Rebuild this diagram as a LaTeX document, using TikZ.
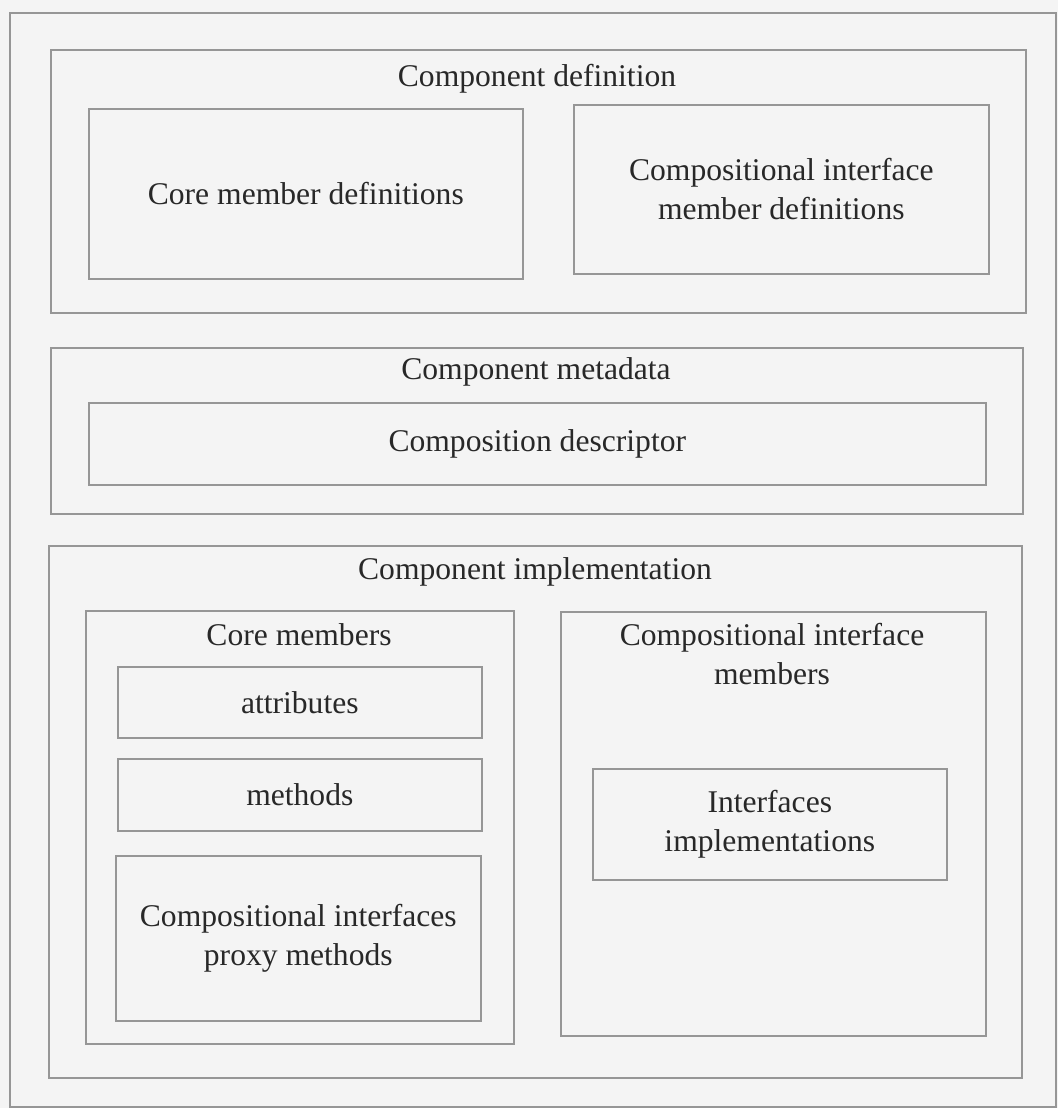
\documentclass[tikz,border=0pt]{standalone}
\usepackage{fontspec}
\setmainfont{Liberation Serif}
\definecolor{paper}{RGB}{244,244,244}
\definecolor{frame}{RGB}{150,150,150}
\definecolor{ink}{RGB}{40,40,40}
\begin{document}
\begin{tikzpicture}[x=1pt,y=-1pt,
  box/.style={draw=frame, line width=1.6pt, inner sep=0pt, anchor=north west},
  lbl/.style={text=ink, font=\fontsize{31.6}{39}\selectfont, align=center, inner sep=0pt}]
  % page
  \fill[paper] (0,0) rectangle (1058,1108);
  \useasboundingbox (0,0) rectangle (1058,1108);
  % outer frame
  \draw[frame, line width=1.6pt] (10,13) rectangle (1056,1107);

  % --- Component definition ---
  \node[box, minimum width=975pt, minimum height=263pt] (def) at (50,49) {};
  \node[lbl] (defT) at (537,79) {Component definition};
  \node[box, minimum width=434pt, minimum height=170pt] (coredef) at (88,108) {};
  \node[lbl] (coredefT) at (coredef.center) {Core member definitions};
  \node[box, minimum width=415pt, minimum height=169pt] (cidef) at (573,104) {};
  \node[lbl] (cidefT) at (cidef.center) {Compositional interface\\member definitions};

  % --- Component metadata ---
  \node[box, minimum width=972pt, minimum height=166pt] (meta) at (50,347) {};
  \node[lbl] (metaT) at (536,372) {Component metadata};
  \node[box, minimum width=897pt, minimum height=82pt] (desc) at (88,402) {};
  \node[lbl] (descT) at (desc.center) {Composition descriptor};

  % --- Component implementation ---
  \node[box, minimum width=973pt, minimum height=532pt] (impl) at (48,545) {};
  \node[lbl] (implT) at (535,572) {Component implementation};

  % core members
  \node[box, minimum width=428pt, minimum height=433pt] (core) at (85,610) {};
  \node[lbl] (coreT) at (299,635) {Core members};
  \node[box, minimum width=364pt, minimum height=71pt] (attr) at (117,666) {};
  \node[lbl] (attrT) at (attr.center) {attributes};
  \node[box, minimum width=364pt, minimum height=72pt] (meth) at (117,758) {};
  \node[lbl] (methT) at (meth.center) {methods};
  \node[box, minimum width=365pt, minimum height=165pt] (proxy) at (115,855) {};
  \node[lbl] (proxyT) at (proxy.center) {Compositional interfaces\\proxy methods};

  % compositional interface members
  \node[box, minimum width=425pt, minimum height=424pt] (cim) at (560,611) {};
  \node[lbl] (cimT) at (772,654) {Compositional interface\\members};
  \node[box, minimum width=354pt, minimum height=111pt] (iimpl) at (592,768) {};
  \node[lbl] (iimplT) at (iimpl.center) {Interfaces\\implementations};
\end{tikzpicture}
\end{document}
